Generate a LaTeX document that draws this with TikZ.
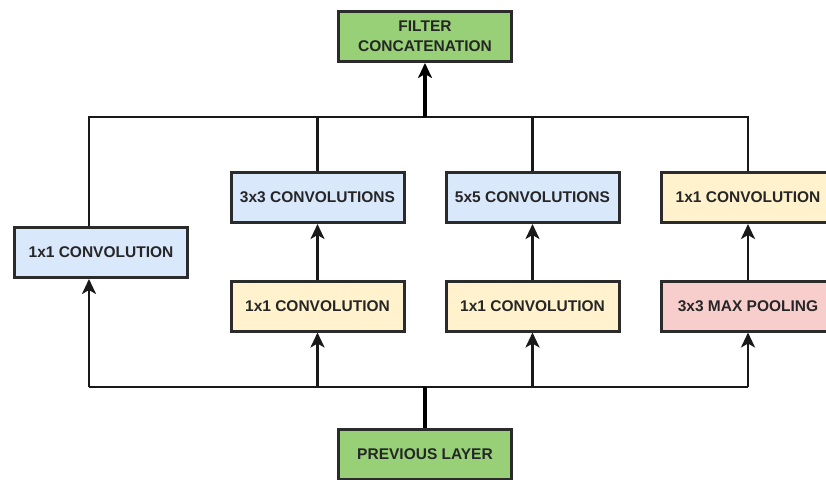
\documentclass[tikz,border=0pt]{standalone}
\usepackage{fontspec}
\setmainfont{Liberation Sans}
\usetikzlibrary{arrows.meta}

\definecolor{layergreen}{HTML}{97D077}
\definecolor{convblue}{HTML}{DAE8FC}
\definecolor{convyellow}{HTML}{FFF2CC}
\definecolor{poolred}{HTML}{F8CECC}
\definecolor{edgegray}{HTML}{2B2B2B}

\begin{document}
\begin{tikzpicture}[x=1pt,y=-1pt,
>={Stealth[length=15pt,width=14pt,inset=4pt]},
every node/.style={font=\fontsize{15.5}{20}\selectfont\bfseries,text=black!85},
block/.style={draw=edgegray,line width=3pt,minimum width=173pt,minimum height=50pt,align=center,inner sep=0pt},
link/.style={line width=2.6pt,draw=black!90},
trunk/.style={line width=4pt,draw=black}]

\useasboundingbox (0,0) rectangle (826,479);
\clip (0,0) rectangle (826,479);

\node[block,fill=layergreen](concat) at (425,36.5) {FILTER\\CONCATENATION};
\node[block,fill=layergreen](prev) at (425,454.5) {PREVIOUS LAYER};

\node[block,fill=convblue](conv1) at (101,252.5) {1x1 CONVOLUTION};
\node[block,fill=convblue](conv3) at (317.5,197.5) {3x3 CONVOLUTIONS};
\node[block,fill=convblue](conv5) at (532.5,197.5) {5x5 CONVOLUTIONS};
\node[block,fill=convyellow](proj) at (748,197.5) {1x1 CONVOLUTION};

\node[block,fill=convyellow](red3) at (317.5,306) {1x1 CONVOLUTION};
\node[block,fill=convyellow](red5) at (532.5,306) {1x1 CONVOLUTION};
\node[block,fill=poolred](pool) at (748,306) {3x3 MAX POOLING};

% the two buses
\coordinate (top) at (0,117);
\coordinate (bot) at (0,387);
\coordinate (c1top) at ([xshift=-12pt]conv1.north);
\coordinate (c1bot) at ([xshift=-12pt]conv1.south);

\draw[link] (c1top) |- (proj.north |- top) -- (proj.north);
\foreach \n in {conv3,conv5}
  \draw[link] (\n.north) -- (\n.north |- top);
\draw[trunk,->] (concat.south |- top) -- (concat.south);

\draw[link] (c1bot |- bot) -- (pool.south |- bot);
\draw[link,->] (c1bot |- bot) -- (c1bot);
\foreach \n in {red3,red5,pool}
  \draw[link,->] (\n.south |- bot) -- (\n.south);
\draw[trunk] (prev.north) -- (prev.north |- bot);

\draw[link,->] (red3.north) -- (conv3.south);
\draw[link,->] (red5.north) -- (conv5.south);
\draw[link,->] (pool.north) -- (proj.south);

\end{tikzpicture}
\end{document}
